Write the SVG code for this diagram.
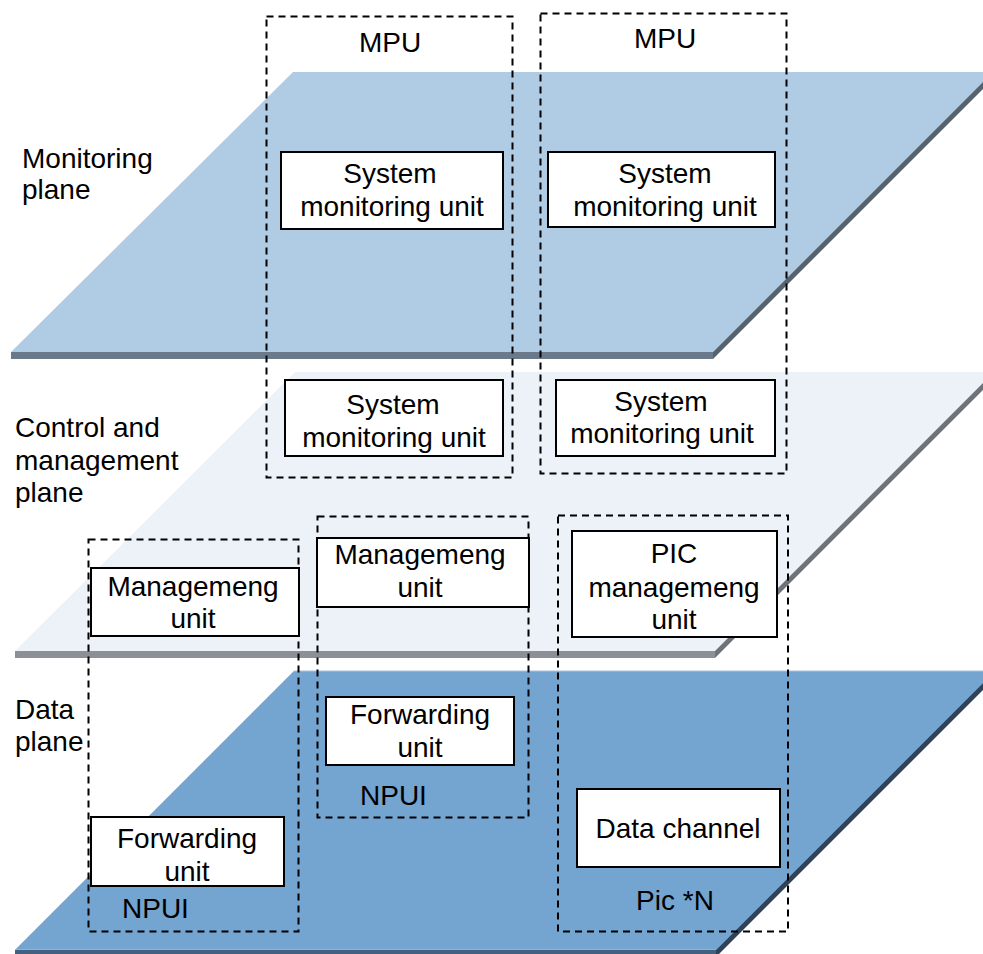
<svg xmlns="http://www.w3.org/2000/svg" width="983" height="954" viewBox="0 0 983 954">
<style>
text{font-family:"Liberation Sans",Arial,sans-serif;font-size:28px;fill:#000}
.c{text-anchor:middle}
.box{fill:#fff;stroke:#000;stroke-width:2}
.dash{fill:none;stroke:#000;stroke-width:2;stroke-dasharray:7 5}
</style>
<rect width="983" height="954" fill="#fff"/>
<g id="plane-monitoring">
<polygon points="293,72 993,72 713,352 11,352" fill="#b0cbe4"/>
<rect x="11" y="352" width="702" height="7" fill="#6b7a8b"/>
<polygon points="713,352 993,72 993,79 713,359" fill="#556270"/>
<text x="22" y="168">Monitoring</text>
<text x="22" y="199">plane</text>
</g>
<g id="plane-control">
<polygon points="295,372 994,372 715,651 15,651" fill="#edf2f9"/>
<rect x="15" y="651" width="700" height="7" fill="#8c9095"/>
<polygon points="715,651 994,372 994,379 715,658" fill="#6f7378"/>
<text x="15" y="437">Control and</text>
<text x="15" y="470">management</text>
<text x="15" y="502">plane</text>
</g>
<g id="plane-data">
<polygon points="294,671 995,671 716,950 15,950" fill="#74a4d0" stroke="#a9c3dd" stroke-width="1"/>
<rect x="15" y="950" width="701" height="7" fill="#44607f"/>
<polygon points="716,950 995,671 995,678 716,957" fill="#2f4257"/>
<text x="15" y="719">Data</text>
<text x="15" y="751">plane</text>
</g>
<g id="mpu1">
<rect class="dash" x="266.5" y="16.5" width="246" height="461"/>
<text class="c" x="390" y="52">MPU</text>
</g>
<g id="mpu2">
<rect class="dash" x="540.5" y="13.5" width="246" height="460"/>
<text class="c" x="665" y="48">MPU</text>
</g>
<g id="npui-left">
<rect class="dash" x="88.5" y="539.5" width="210" height="392"/>
<text x="122" y="918">NPUI</text>
</g>
<g id="npui-mid">
<rect class="dash" x="317.5" y="516.5" width="211" height="301"/>
<text x="360" y="805">NPUI</text>
</g>
<g id="pic">
<rect class="dash" x="558" y="515.5" width="230" height="416"/>
<text class="c" x="675" y="910">Pic *N</text>
</g>
<g id="sysmon1">
<rect class="box" x="281" y="152" width="222" height="77"/>
<text class="c" x="390" y="183">System</text>
<text class="c" x="392" y="216">monitoring unit</text>
</g>
<g id="sysmon2">
<rect class="box" x="548" y="152" width="227" height="75"/>
<text class="c" x="665" y="183">System</text>
<text class="c" x="665" y="216">monitoring unit</text>
</g>
<g id="sysmon3">
<rect class="box" x="285" y="380" width="218" height="76"/>
<text class="c" x="393" y="414">System</text>
<text class="c" x="394" y="447">monitoring unit</text>
</g>
<g id="sysmon4">
<rect class="box" x="556" y="380" width="219" height="76"/>
<text class="c" x="661" y="411">System</text>
<text class="c" x="662" y="443">monitoring unit</text>
</g>
<g id="mgmt-left">
<rect class="box" x="91" y="568" width="208" height="68"/>
<text class="c" x="193" y="596">Managemeng</text>
<text class="c" x="193" y="628">unit</text>
</g>
<g id="mgmt-mid">
<rect class="box" x="317" y="538" width="212" height="69"/>
<text class="c" x="420" y="564">Managemeng</text>
<text class="c" x="420" y="597">unit</text>
</g>
<g id="pic-mgmt">
<rect class="box" x="572" y="531" width="205" height="106"/>
<text class="c" x="674" y="563">PIC</text>
<text class="c" x="674" y="597">managemeng</text>
<text class="c" x="674" y="629">unit</text>
</g>
<g id="fwd-mid">
<rect class="box" x="326" y="697" width="188" height="68"/>
<text class="c" x="420" y="724">Forwarding</text>
<text class="c" x="420" y="757">unit</text>
</g>
<g id="fwd-left">
<rect class="box" x="91" y="817" width="193" height="69"/>
<text class="c" x="187" y="848">Forwarding</text>
<text class="c" x="187" y="881">unit</text>
</g>
<g id="data-channel">
<rect class="box" x="577" y="789" width="203" height="78"/>
<text class="c" x="678" y="838">Data channel</text>
</g>
<g id="connectors"/>
</svg>
